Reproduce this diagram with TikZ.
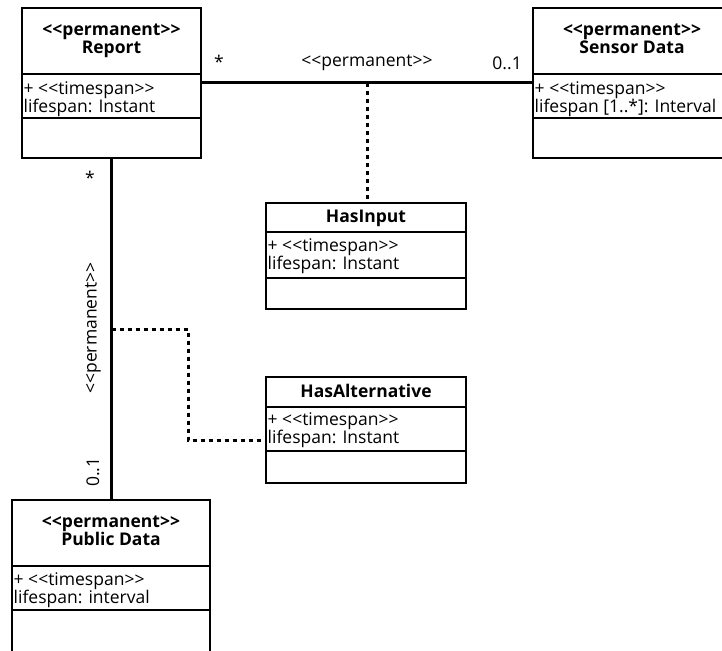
\documentclass[tikz,border=0pt]{standalone}
\usepackage{fontspec}
\setmainfont{Open Sans}[Ligatures=TeXOff]
\newcommand\umlclass[7]{%
  \node[clsbox, minimum width=#4pt, minimum height=#5pt] (#1) at (#2,#3) {};
  \draw[divider] (#2,#3+#6) -- ++(#4,0);
  \draw[divider] (#2,#3+#6+#7) -- ++(#4,0);
}
\begin{document}
\begin{tikzpicture}[x=1pt,y=-1pt,
  font=\fontsize{17.5}{18}\selectfont,
  clsbox/.style={draw, line width=2pt, anchor=north west, inner sep=0pt, outer sep=0pt},
  divider/.style={line width=1.2pt},
  htext/.style={inner sep=0pt, anchor=base, font=\fontsize{17.5}{18}\selectfont\bfseries},
  atext/.style={inner sep=0pt, anchor=base west},
  lbl/.style={inner sep=0pt},
  assoc/.style={line width=3pt},
  dep/.style={line width=3pt, dash pattern=on 4pt off 4pt}]
\clip (0,0) rectangle (722,650);
\fill[white] (0,0) rectangle (722,650);
% Report
\umlclass{report}{22}{8}{179}{150}{66}{44}
\node[htext] (report-h1) at (111.5,35.5) {<<permanent>>};
\node[htext] (report-h2) at (111.5,54) {Report};
\node[atext] (report-a1) at (23.5,94.5) {+ <<timespan>>};
\node[atext] (report-a2) at (23.5,112.5) {lifespan: Instant};
% Sensor Data
\umlclass{sensor}{533}{8}{198}{150}{66}{44}
\node[htext] (sensor-h1) at (632,35.5) {<<permanent>>};
\node[htext] (sensor-h2) at (632,54) {Sensor Data};
\node[atext] (sensor-a1) at (534.5,94.5) {+ <<timespan>>};
\node[atext] (sensor-a2) at (534.5,112.5) {lifespan [1..*]: Interval};
% HasInput
\umlclass{hasinput}{266}{203}{200}{106}{29}{46}
\node[htext] (hasinput-h) at (366,222.5) {HasInput};
\node[atext] (hasinput-a1) at (267.5,251.5) {+ <<timespan>>};
\node[atext] (hasinput-a2) at (267.5,269.5) {lifespan: Instant};
% HasAlternative
\umlclass{hasalt}{266}{377}{200}{106}{30}{44}
\node[htext] (hasalt-h) at (366,397.5) {HasAlternative};
\node[atext] (hasalt-a1) at (267.5,425) {+ <<timespan>>};
\node[atext] (hasalt-a2) at (267.5,443) {lifespan: Instant};
% Public Data
\umlclass{public}{12}{500}{198}{152}{66}{44}
\node[htext] (public-h1) at (111,527) {<<permanent>>};
\node[htext] (public-h2) at (111,545.5) {Public Data};
\node[atext] (public-a1) at (13.5,585) {+ <<timespan>>};
\node[atext] (public-a2) at (13.5,603) {lifespan: interval};
% association Report -- Sensor Data
\draw[assoc] (report.east) -- (sensor.west) coordinate[midway] (m1);
\node[lbl] (l1) at (219,62) {*};
\node[lbl] (l2) at (367,63) {<<permanent>>};
\node[lbl, anchor=east] (l3) at (522,63) {0..1};
\draw[dep] (m1) -- (m1 |- hasinput.north);
% association Report -- Public Data
\draw[assoc] (report.south) -- (report.south |- public.north) coordinate[midway] (m2);
\node[lbl] (l4) at (90,178) {*};
\node[lbl, rotate=90] (l5) at (93,328) {<<permanent>>};
\node[lbl, rotate=90] (l6) at (93,472) {0..1};
\coordinate (bend) at (188,440);
\draw[dep] (m2) -| (bend) -- (bend -| hasalt.west);
\end{tikzpicture}
\end{document}
